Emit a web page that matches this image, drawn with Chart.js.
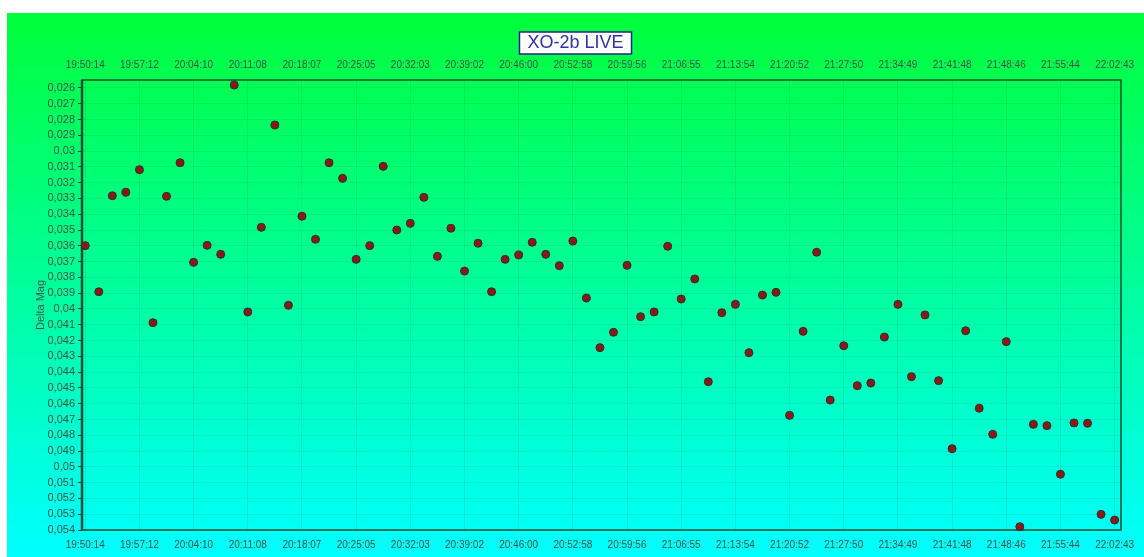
<!DOCTYPE html>
<html>
<head>
<meta charset="utf-8">
<script src="https://cdn.jsdelivr.net/npm/chart.js@4.4.1/dist/chart.umd.min.js"></script>
<style>
html,body{margin:0;padding:0;background:#ffffff;}
#wrap{width:1144px;height:557px;position:relative;}
</style>
</head>
<body>
<div id="wrap"><canvas id="c" width="1144" height="557"></canvas></div>
<script>
const chartTitle = 'XO-2b LIVE';
const yAxisTitle = 'Delta Mag';

const timeTickLabels = ['19:50:14','19:57:12','20:04:10','20:11:08','20:18:07','20:25:05','20:32:03',
  '20:39:02','20:46:00','20:52:58','20:59:56','21:06:55','21:13:54','21:20:52','21:27:50',
  '21:34:49','21:41:48','21:48:46','21:55:44','22:02:43'];
const tickIndices = [0,4,8,12,16,20,24,28,32,36,40,44,48,52,56,60,64,68,72,76];

const yTickValues = [0.026,0.027,0.028,0.029,0.030,0.031,0.032,0.033,0.034,0.035,0.036,0.037,
  0.038,0.039,0.040,0.041,0.042,0.043,0.044,0.045,0.046,0.047,0.048,0.049,0.050,0.051,0.052,0.053,0.054];

const deltaMag = [
  0.03599,0.03891,0.03283,0.03261,0.03118,0.04087,0.03287,0.03074,0.03705,0.03597,
  0.03654,0.02582,0.04019,0.03483,0.02835,0.03977,0.03413,0.03559,0.03074,0.03173,
  0.03686,0.03599,0.03097,0.03500,0.03458,0.03293,0.03667,0.03489,0.03760,0.03584,
  0.03891,0.03686,0.03658,0.03578,0.03654,0.03726,0.03570,0.03931,0.04245,0.04148,
  0.03724,0.04049,0.04019,0.03603,0.03937,0.03810,0.04461,0.04024,0.03971,0.04277,
  0.03912,0.03895,0.04674,0.04142,0.03641,0.04577,0.04233,0.04486,0.04469,0.04178,
  0.03971,0.04429,0.04038,0.04454,0.04885,0.04138,0.04629,0.04794,0.04207,0.05379,
  0.04731,0.04739,0.05047,0.04722,0.04724,0.05301,0.05337
];

const points = deltaMag.map((v, i) => ({x: i, y: v}));

function fmtMag(v) {
  return v.toFixed(3).replace(/0+$/, '').replace('.', ',');
}

const labelColor = '#415046';
const fontFam = '"Liberation Sans", Arial, sans-serif';

const bgPlugin = {
  id: 'bg',
  beforeDraw(chart) {
    const ctx = chart.ctx;
    ctx.save();
    const g = ctx.createLinearGradient(0, 13, 0, 557);
    g.addColorStop(0, '#00ff3a');
    g.addColorStop(1, '#00ffff');
    ctx.fillStyle = g;
    ctx.fillRect(7, 13, chart.width - 7, chart.height - 13);
    ctx.font = '18px ' + fontFam;
    const tw = ctx.measureText(chartTitle).width;
    const tb = chart.titleBlock;
    const cx = (tb.left + tb.right) / 2;
    const bw = tw + 16, bh = 22;
    ctx.fillStyle = '#ffffff';
    ctx.fillRect(cx - bw / 2, 32, bw, bh);
    ctx.strokeStyle = '#23238a';
    ctx.lineWidth = 1.5;
    ctx.strokeRect(cx - bw / 2, 32, bw, bh);
    ctx.restore();
  },
  beforeDatasetsDraw(chart) {
    const {ctx, chartArea: a} = chart;
    ctx.save();
    ctx.strokeStyle = '#1d4a2c';
    ctx.lineWidth = 1.5;
    ctx.strokeRect(a.left, a.top, a.right - a.left, a.bottom - a.top);
    ctx.lineWidth = 2.5;
    ctx.strokeStyle = '#1a4a3a';
    ctx.beginPath();
    ctx.moveTo(a.left, a.top);
    ctx.lineTo(a.left, a.bottom);
    ctx.stroke();
    ctx.restore();
  }
};

const xCommon = {
  type: 'linear',
  min: -0.24,
  max: 76.47,
  afterBuildTicks: s => { s.ticks = tickIndices.map(v => ({value: v})); },
  ticks: {
    autoSkip: false, maxRotation: 0, padding: 9,
    color: labelColor, font: {size: 10, family: fontFam},
    callback: (v, i) => timeTickLabels[i]
  },
  border: {display: false}
};

new Chart(document.getElementById('c'), {
  type: 'scatter',
  data: {
    datasets: [{
      data: points,
      pointRadius: 4,
      pointHoverRadius: 4,
      backgroundColor: '#851c1c',
      borderColor: '#3b2a22',
      borderWidth: 1,
      clip: false
    }]
  },
  options: {
    responsive: false,
    animation: false,
    devicePixelRatio: 1,
    layout: {padding: {left: 7, right: 0, top: 0, bottom: 0}},
    plugins: {
      legend: {display: false},
      tooltip: {enabled: false},
      title: {
        display: true,
        text: chartTitle,
        color: '#3030a8',
        font: {size: 18, family: fontFam, weight: 'normal', lineHeight: 1.2},
        padding: {top: 32.2, bottom: 2.2}
      }
    },
    scales: {
      x: Object.assign({}, xCommon, {
        position: 'bottom',
        afterFit: s => { s.height = 27; },
        grid: {color: 'rgba(0,70,60,0.11)', drawTicks: false, lineWidth: 1}
      }),
      x2: Object.assign({}, xCommon, {
        position: 'top',
        afterFit: s => { s.height = 24; },
        grid: {display: false, drawTicks: false}
      }),
      y: {
        type: 'linear',
        position: 'left',
        reverse: true,
        min: 0.0255,
        max: 0.054,
        afterBuildTicks: s => {
          const t = [];
          yTickValues.forEach((v, i) => {
            t.push({value: v, major: true});
            if (i < yTickValues.length - 1) t.push({value: (v + yTickValues[i + 1]) / 2});
          });
          s.ticks = t;
        },
        afterFit: s => { s.width = 75; },
        ticks: {
          autoSkip: false, padding: 3,
          color: labelColor, font: {size: 11, family: fontFam},
          callback: (v, i, ticks) => (ticks[i].major ? fmtMag(v) : null)
        },
        grid: {color: 'rgba(0,70,60,0.08)', tickLength: 4, tickColor: '#2a4a38'},
        border: {display: false},
        title: {
          display: true, text: yAxisTitle, color: labelColor,
          font: {size: 11, family: fontFam},
          padding: {top: 27, bottom: 0}
        }
      },
      yR: {
        type: 'linear',
        position: 'right',
        display: true,
        afterFit: s => { s.width = 23; },
        ticks: {display: false},
        grid: {display: false, drawTicks: false},
        border: {display: false}
      }
    }
  },
  plugins: [bgPlugin]
});
</script>
</body>
</html>
